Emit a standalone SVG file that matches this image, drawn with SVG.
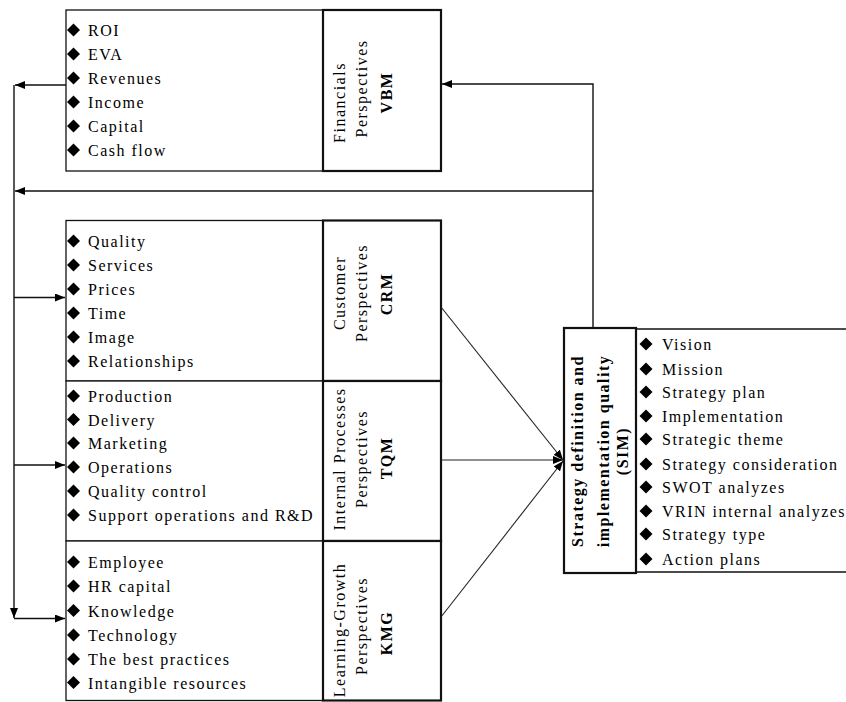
<svg xmlns="http://www.w3.org/2000/svg" width="846" height="702" viewBox="0 0 846 702">
<style>
  text { font-family: "Liberation Serif", "Times New Roman", serif; font-size: 16px; fill: #000; letter-spacing: 1.5px; }
  .b { font-weight: bold; }
  .v { text-anchor: middle; }
  .box { fill: #fff; stroke: #111; stroke-width: 1.3; }
  .lbl { fill: #fff; stroke: #111; stroke-width: 2.2; }
  .ln { fill: none; stroke: #111; stroke-width: 1.4; }
  .thin { fill: none; stroke: #222; stroke-width: 1.1; }
</style>
<defs>
  <polygon id="dm" points="0,-6.5 6.5,0 0,6.5 -6.5,0" fill="#000"/>
  <marker id="ah" viewBox="0 0 10 8" refX="10" refY="4" markerWidth="10" markerHeight="8" markerUnits="userSpaceOnUse" orient="auto">
    <path d="M0,0 L10,4 L0,8 z" fill="#000"/>
  </marker>
</defs>
<rect width="846" height="702" fill="#fff"/>

<g id="vbm">
  <rect class="box" x="66" y="10" width="257" height="161"/>
  <rect class="lbl" x="323" y="10" width="118" height="161"/>
  <use href="#dm" x="73.5" y="30"/><text x="88" y="36">ROI</text>
  <use href="#dm" x="73.5" y="54"/><text x="88" y="60">EVA</text>
  <use href="#dm" x="73.5" y="78"/><text x="88" y="84">Revenues</text>
  <use href="#dm" x="73.5" y="102"/><text x="88" y="108">Income</text>
  <use href="#dm" x="73.5" y="126"/><text x="88" y="132">Capital</text>
  <use href="#dm" x="73.5" y="150"/><text x="88" y="156">Cash flow</text>
  <text class="v" transform="translate(345,102.5) rotate(-90)">Financials</text>
  <text class="v" transform="translate(367,88.5) rotate(-90)">Perspectives</text>
  <text class="v b" transform="translate(392,92.5) rotate(-90)">VBM</text>
</g>

<g id="crm">
  <rect class="box" x="66" y="220.5" width="257" height="160.5"/>
  <rect class="lbl" x="323" y="220.5" width="118" height="160.5"/>
  <use href="#dm" x="73.5" y="241"/><text x="88" y="247">Quality</text>
  <use href="#dm" x="73.5" y="265"/><text x="88" y="271">Services</text>
  <use href="#dm" x="73.5" y="289"/><text x="88" y="295">Prices</text>
  <use href="#dm" x="73.5" y="313"/><text x="88" y="319">Time</text>
  <use href="#dm" x="73.5" y="337"/><text x="88" y="343">Image</text>
  <use href="#dm" x="73.5" y="361"/><text x="88" y="367">Relationships</text>
  <text class="v" transform="translate(345,293) rotate(-90)">Customer</text>
  <text class="v" transform="translate(367,293) rotate(-90)">Perspectives</text>
  <text class="v b" transform="translate(392,294) rotate(-90)">CRM</text>
</g>

<g id="tqm">
  <rect class="box" x="66" y="381" width="257" height="160"/>
  <rect class="lbl" x="323" y="381" width="118" height="160"/>
  <use href="#dm" x="73.5" y="396"/><text x="88" y="402">Production</text>
  <use href="#dm" x="73.5" y="419.5"/><text x="88" y="425.5">Delivery</text>
  <use href="#dm" x="73.5" y="443"/><text x="88" y="449">Marketing</text>
  <use href="#dm" x="73.5" y="467"/><text x="88" y="473">Operations</text>
  <use href="#dm" x="73.5" y="491"/><text x="88" y="497">Quality control</text>
  <use href="#dm" x="73.5" y="515"/><text x="88" y="521">Support operations and R&amp;D</text>
  <text class="v" transform="translate(345,459) rotate(-90)">Internal Processes</text>
  <text class="v" transform="translate(367,459) rotate(-90)">Perspectives</text>
  <text class="v b" transform="translate(392,458) rotate(-90)">TQM</text>
</g>

<g id="kmg">
  <rect class="box" x="66" y="541" width="257" height="159.5"/>
  <rect class="lbl" x="323" y="541" width="118" height="159.5"/>
  <use href="#dm" x="73.5" y="562"/><text x="88" y="568">Employee</text>
  <use href="#dm" x="73.5" y="586"/><text x="88" y="592">HR capital</text>
  <use href="#dm" x="73.5" y="610.5"/><text x="88" y="616.5">Knowledge</text>
  <use href="#dm" x="73.5" y="635"/><text x="88" y="641">Technology</text>
  <use href="#dm" x="73.5" y="659"/><text x="88" y="665">The best practices</text>
  <use href="#dm" x="73.5" y="682.5"/><text x="88" y="688.5">Intangible resources</text>
  <text class="v" transform="translate(345,630) rotate(-90)">Learning-Growth</text>
  <text class="v" transform="translate(367,626) rotate(-90)">Perspectives</text>
  <text class="v b" transform="translate(392,633) rotate(-90)">KMG</text>
</g>

<g id="sim">
  <line class="box" x1="636" y1="329" x2="846" y2="329"/>
  <line class="box" x1="636" y1="572" x2="846" y2="572"/>
  <rect class="lbl" x="564" y="328" width="72" height="245"/>
  <text class="v b" transform="translate(583,451) rotate(-90)">Strategy definition and</text>
  <text class="v b" transform="translate(609,451) rotate(-90)">implementation quality</text>
  <text class="v b" transform="translate(628,451) rotate(-90)">(SIM)</text>
  <use href="#dm" x="646" y="344"/><text x="662" y="350">Vision</text>
  <use href="#dm" x="646" y="369"/><text x="662" y="375">Mission</text>
  <use href="#dm" x="646" y="392"/><text x="662" y="398">Strategy plan</text>
  <use href="#dm" x="646" y="416"/><text x="662" y="422">Implementation</text>
  <use href="#dm" x="646" y="439"/><text x="662" y="445">Strategic theme</text>
  <use href="#dm" x="646" y="464"/><text x="662" y="470">Strategy consideration</text>
  <use href="#dm" x="646" y="487"/><text x="662" y="493">SWOT analyzes</text>
  <use href="#dm" x="646" y="511"/><text x="662" y="517">VRIN internal analyzes</text>
  <use href="#dm" x="646" y="534"/><text x="662" y="540">Strategy type</text>
  <use href="#dm" x="646" y="559"/><text x="662" y="565">Action plans</text>
</g>

<g id="connectors">
  <polyline class="ln" points="593,328 593,84 442,84" marker-end="url(#ah)"/>
  <line class="ln" x1="593" y1="191" x2="15" y2="191" marker-end="url(#ah)"/>
  <line class="ln" x1="66" y1="85" x2="15" y2="85" marker-end="url(#ah)"/>
  <line class="ln" x1="14" y1="85" x2="14" y2="618" marker-end="url(#ah)"/>
  <line class="ln" x1="14" y1="297.5" x2="65" y2="297.5" marker-end="url(#ah)"/>
  <line class="ln" x1="14" y1="465" x2="65" y2="465" marker-end="url(#ah)"/>
  <line class="ln" x1="14" y1="618.5" x2="65" y2="618.5" marker-end="url(#ah)"/>
  <line class="thin" x1="441" y1="307" x2="563" y2="460" marker-end="url(#ah)"/>
  <line class="thin" x1="441" y1="460" x2="563" y2="460" marker-end="url(#ah)"/>
  <line class="thin" x1="441" y1="617" x2="563" y2="461" marker-end="url(#ah)"/>
</g>
</svg>
